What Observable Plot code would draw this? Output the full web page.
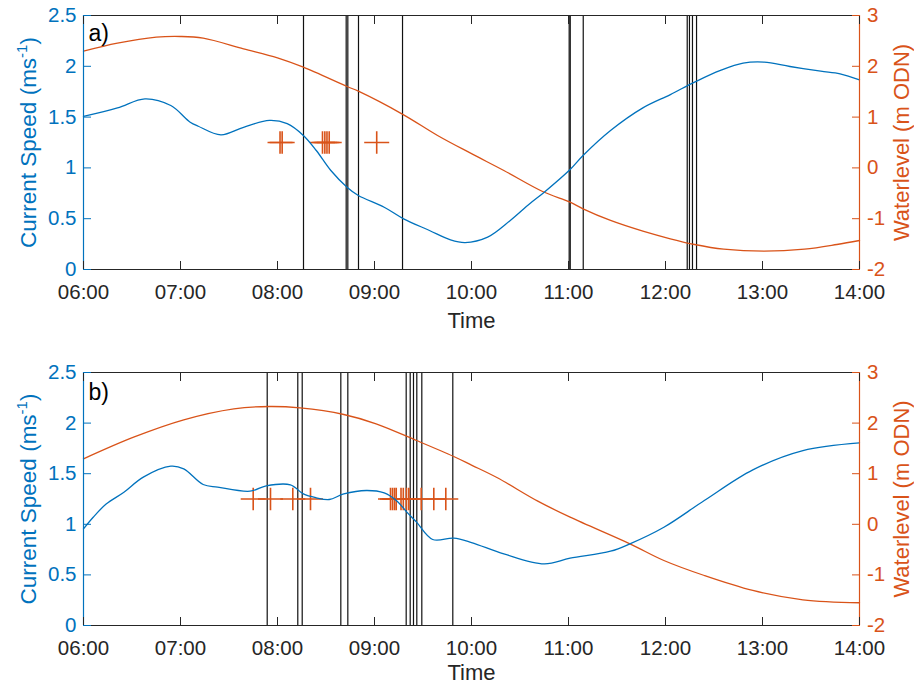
<!DOCTYPE html>
<html><head><meta charset="utf-8">
<script src="https://cdn.jsdelivr.net/npm/d3@7"></script>
<script src="https://cdn.jsdelivr.net/npm/@observablehq/plot@0.6"></script>
<style>
body{margin:0;background:#fff;}
#chart{width:914px;height:685px;overflow:hidden;}
#chart svg{display:block;}
</style>
</head><body><div id="chart"></div>
<script>
// ---------- data ----------
const xDomain = ["06:00", "14:00"];
const hourTicks = ["06:00","07:00","08:00","09:00","10:00","11:00","12:00","13:00","14:00"];
const speedTicks = [0, 0.5, 1, 1.5, 2, 2.5];
const levelTicks = [-2, -1, 0, 1, 2, 3];
const markerSpeed = 1.25;

// panel a
const speedA_time = ["06:00","06:21","06:38","06:54","07:06","07:11","07:25","07:39","07:55","08:06","08:16","08:24","08:33","08:43","08:50","09:06","09:18","09:34","09:47","09:56","10:10","10:24","10:36","10:45","11:01","11:09","11:26","11:46","12:03","12:18","12:34","12:48","13:01","13:17","13:36","13:48","14:00"];
const speedA = [1.506,1.59,1.68,1.614,1.45,1.41,1.325,1.40,1.467,1.435,1.319,1.171,0.974,0.81,0.728,0.613,0.499,0.384,0.292,0.265,0.318,0.482,0.647,0.761,0.984,1.122,1.368,1.591,1.722,1.844,1.959,2.031,2.041,1.998,1.952,1.926,1.867];
const levelA_time = ["06:00","06:21","06:45","07:00","07:14","07:39","08:00","08:16","08:43","08:50","09:18","09:39","10:00","10:20","10:44","11:01","11:09","11:26","11:46","12:03","12:18","12:36","13:01","13:26","13:46","14:00"];
const levelA = [2.297,2.455,2.573,2.587,2.554,2.344,2.167,1.983,1.602,1.51,1.045,0.638,0.28,-0.051,-0.465,-0.675,-0.806,-1.035,-1.246,-1.396,-1.508,-1.60,-1.64,-1.60,-1.508,-1.429];
const eventsA = ["08:16:05","08:42:29","08:43:30","08:50:06","09:17:20","11:00:25","11:01:05","11:09:07","12:13:26","12:14:49","12:16:41","12:19:12"];
const markersA = ["08:01:34","08:02:53","08:27:50","08:29:17","08:30:36","08:31:59","09:01:22"];

// panel b
const speedB_time = ["06:00","06:06","06:14","06:25","06:37","06:54","07:02","07:14","07:23","07:43","07:53","08:08","08:16","08:24","08:32","08:41","08:55","09:06","09:14","09:20","09:26","09:36","09:49","10:00","10:20","10:45","11:01","11:26","11:38","11:59","12:24","12:54","13:25","14:00"];
const speedB = [0.955,1.07,1.20,1.317,1.466,1.574,1.548,1.393,1.367,1.327,1.38,1.39,1.30,1.262,1.245,1.30,1.334,1.31,1.228,1.12,1.021,0.85,0.863,0.82,0.708,0.609,0.665,0.734,0.807,0.971,1.235,1.538,1.729,1.805];
const levelB_time = ["06:00","06:31","07:02","07:33","07:55","08:14","08:41","09:01","09:26","09:49","10:00","10:16","10:41","11:01","11:38","11:59","12:24","12:54","13:25","14:00"];
const levelB = [1.294,1.722,2.065,2.282,2.328,2.30,2.17,1.986,1.656,1.34,1.17,0.919,0.457,0.141,-0.386,-0.715,-1.012,-1.308,-1.493,-1.55];
const eventsB = ["07:53:38","08:12:33","08:15:17","08:39:10","08:43:30","09:19:36","09:22:05","09:24:07","09:26:10","09:29:16","09:48:26"];
const markersB = ["07:44:58","07:55:40","08:09:28","08:20:25","09:09:54","09:11:09","09:12:23","09:13:26","09:16:24","09:17:49","09:19:48","09:21:14","09:28:53","09:36:41","09:44:06"];

const speedLabel = "Current Speed (ms-1)";
const levelLabel = "Waterlevel (m ODN)";
const timeLabel = "Time";

// ---------- helpers ----------
const BLUE = "#0072BD", ORANGE = "#D95319", AX = "#262626";
const FONT = "'Liberation Sans', Arial, Helvetica, sans-serif";
const T = s => d3.utcParse(s.length === 5 ? "%H:%M" : "%H:%M:%S")(s);
const lv2sp = v => (v - levelTicks[0]) / (levelTicks[levelTicks.length-1] - levelTicks[0]) * speedTicks[speedTicks.length-1];
const sp2lv = s => Math.round(s / speedTicks[speedTicks.length-1] * (levelTicks[levelTicks.length-1] - levelTicks[0]) + levelTicks[0]);

const plusSymbol = {
  draw(context, size) {
    const r = Math.sqrt(size / Math.PI);
    context.moveTo(-r, 0); context.lineTo(r, 0);
    context.moveTo(0, -r * 0.9); context.lineTo(0, r * 0.9);
  }
};

function panel(cfg) {
  const speedData = cfg.speedT.map((t, i) => ({t: T(t), v: cfg.speedV[i]}));
  const levelData = cfg.levelT.map((t, i) => ({t: T(t), v: lv2sp(cfg.levelV[i])}));
  const events = cfg.events.map(T);
  const markers = cfg.markers.map(t => ({t: T(t), v: markerSpeed}));
  const dom = xDomain.map(T);
  const svg = Plot.plot({
    width: 914, height: cfg.height,
    marginLeft: 83, marginRight: 55, marginTop: cfg.marginTop, marginBottom: cfg.marginBottom,
    style: {fontFamily: FONT, fontSize: "20.5px", background: "white", overflow: "visible"},
    x: {type: "utc", domain: dom, label: null},
    y: {domain: [speedTicks[0], speedTicks[speedTicks.length-1]], label: null},
    marks: [
      Plot.ruleX(events, {stroke: "#111", strokeWidth: 1.2}),
      Plot.line(levelData, {x: "t", y: "v", stroke: ORANGE, strokeWidth: 1.3, curve: "catmull-rom"}),
      Plot.dot(markers, {x: "t", y: "v", symbol: plusSymbol, r: 12.5, stroke: ORANGE, fill: "none", strokeWidth: 1.6}),
      Plot.line(speedData, {x: "t", y: "v", stroke: BLUE, strokeWidth: 1.3, curve: "catmull-rom"}),
      Plot.ruleY([speedTicks[0]], {stroke: AX, strokeWidth: 1.2}),
      Plot.ruleY([speedTicks[speedTicks.length-1]], {stroke: AX, strokeWidth: 1.2}),
      Plot.ruleX([dom[0]], {stroke: BLUE, strokeWidth: 1.2}),
      Plot.ruleX([dom[1]], {stroke: ORANGE, strokeWidth: 1.2}),
      Plot.axisX(hourTicks.map(T), {anchor: "bottom", tickSize: -8, tickPadding: 22.5, tickFormat: d3.utcFormat("%H:%M"), stroke: AX, fill: AX, fontSize: 20.5, label: null}),
      Plot.axisX(hourTicks.map(T), {anchor: "top", tickSize: -8, tickFormat: () => "", stroke: AX, label: null}),
      Plot.axisY(speedTicks, {anchor: "left", tickSize: -8, tickPadding: 15, tickFormat: d => String(d), stroke: BLUE, fill: BLUE, fontSize: 20.5, label: null}),
      Plot.axisY(levelTicks.map(lv2sp), {anchor: "right", tickSize: -8, tickPadding: 15.5, tickFormat: d => String(sp2lv(d)), stroke: ORANGE, fill: ORANGE, fontSize: 20.5, label: null}),
      Plot.text([speedLabel], {frameAnchor: "left", dx: -55, rotate: -90, fill: BLUE, fontSize: 22.5, textAnchor: "middle", lineAnchor: "middle"}),
      Plot.text([levelLabel], {frameAnchor: "right", dx: 42, rotate: -90, fill: ORANGE, fontSize: 22, textAnchor: "middle", lineAnchor: "middle"}),
      Plot.text([timeLabel], {frameAnchor: "bottom", dy: cfg.timeDy, fill: AX, fontSize: 22, textAnchor: "middle", lineAnchor: "middle"}),
      Plot.text([cfg.tag], {frameAnchor: "top-left", dx: 5, dy: cfg.tagDy, fill: "#000", fontSize: 23, textAnchor: "start", lineAnchor: "middle"})
    ]
  });
  // superscript in the speed label
  d3.select(svg).selectAll("text").filter(function() { return this.textContent === speedLabel; })
    .each(function() {
      const el = d3.select(this);
      el.text(null);
      el.append("tspan").text("Current Speed (ms");
      el.append("tspan").attr("dy", -9).attr("font-size", 15).text("-1");
      el.append("tspan").attr("dy", 9).text(")");
    });
  return svg;
}

const chart = document.getElementById("chart");
chart.append(panel({
  speedT: speedA_time, speedV: speedA, levelT: levelA_time, levelV: levelA,
  events: eventsA, markers: markersA, tag: "a)",
  height: 340, marginTop: 15, marginBottom: 71, timeDy: 51, tagDy: 18
}));
chart.append(panel({
  speedT: speedB_time, speedV: speedB, levelT: levelB_time, levelV: levelB,
  events: eventsB, markers: markersB, tag: "b)",
  height: 345, marginTop: 32, marginBottom: 60, timeDy: 47, tagDy: 20
}));
</script>
</body></html>
